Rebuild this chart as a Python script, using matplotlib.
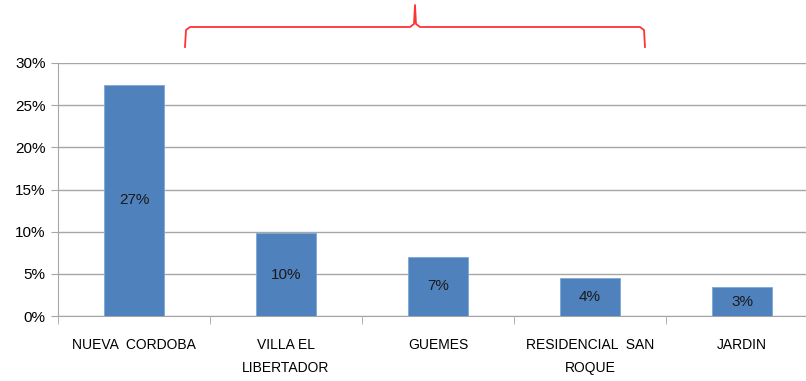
import matplotlib.pyplot as plt
from matplotlib.lines import Line2D
from matplotlib.ticker import FixedLocator, FuncFormatter

plt.rcParams["font.family"] = ["Liberation Sans", "DejaVu Sans"]

categories = ["NUEVA  CORDOBA", "VILLA EL\nLIBERTADOR", "GUEMES",
              "RESIDENCIAL  SAN\nROQUE", "JARDIN"]
values = [27.4, 9.8, 7.0, 4.5, 3.4]
value_labels = ["27%", "10%", "7%", "4%", "3%"]

W, H = 806, 381
fig = plt.figure(figsize=(W / 100, H / 100), dpi=100)
ax = fig.add_axes([58 / W, (H - 316) / H, (W - 58) / W, 253 / H])

x = list(range(len(categories)))
ax.bar(x, values, width=0.4, color="#4F81BD", edgecolor="#7EA6D6",
       linewidth=0.6, zorder=3)
for xi, v, lab in zip(x, values, value_labels):
    ax.text(xi, v / 2, lab, ha="center", va="center", fontsize=11,
            color="#1a1a1a", zorder=4)

ax.set_ylim(0, 30)
ax.set_xlim(-0.5, -0.5 + (W - 58) / 152)
ax.set_yticks(range(0, 31, 5))
ax.yaxis.set_major_formatter(FuncFormatter(lambda v, p: f"{int(v)}%"))
ax.grid(axis="y", color="#a6a6a6", linewidth=1, zorder=0)

ax.set_xticks(x)
ax.set_xticklabels(categories, fontsize=10, linespacing=1.8)
ax.xaxis.set_minor_locator(FixedLocator([i + 0.5 for i in range(-1, 5)]))
ax.tick_params(axis="x", which="major", length=0, pad=16)
ax.tick_params(axis="x", which="minor", length=6, color="#a6a6a6")
ax.tick_params(axis="y", length=5, color="#a6a6a6", labelsize=11, pad=4)

for side in ["top", "right"]:
    ax.spines[side].set_visible(False)
for side in ["left", "bottom"]:
    ax.spines[side].set_color("#a6a6a6")

# red curly brace above the chart
def px(xp, yp):
    return xp / W, 1 - yp / H

brace_x = [185, 186, 190, 410, 414, 415, 416, 420, 640, 644, 645]
brace_y = [47, 30, 27, 27, 24, 5, 24, 27, 27, 30, 47]
pts = [px(a, b) for a, b in zip(brace_x, brace_y)]
fig.add_artist(Line2D([p[0] for p in pts], [p[1] for p in pts],
                      color="#ff3333", linewidth=1.3,
                      transform=fig.transFigure))

fig.savefig("out.png", dpi=100)
